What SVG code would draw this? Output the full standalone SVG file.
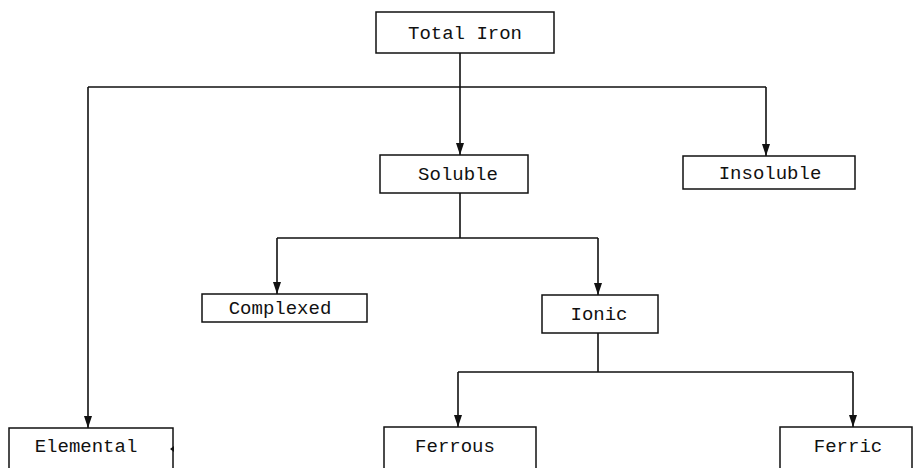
<svg xmlns="http://www.w3.org/2000/svg" width="916" height="468" viewBox="0 0 916 468">
<style>
.box{fill:#fff;stroke:#111;stroke-width:1.5}
.lbl{font-family:"Liberation Mono","DejaVu Sans Mono",monospace;font-size:19px;fill:#111;text-anchor:middle}
.ln{fill:none;stroke:#111;stroke-width:1.6}
</style>
<defs>
<marker id="ah" viewBox="0 0 12 8" refX="12" refY="4" markerWidth="12" markerHeight="8" markerUnits="userSpaceOnUse" orient="auto">
<path d="M0,0 L12,4 L0,8 Z" fill="#111"/>
</marker>
</defs>
<rect width="916" height="468" fill="#fff"/>
<g id="connectors">
<path class="ln" d="M460,53 V87 M88,87 H766"/>
<path class="ln" d="M460,87 V155" marker-end="url(#ah)"/>
<path class="ln" d="M766,87 V156" marker-end="url(#ah)"/>
<path class="ln" d="M88,87 V428" marker-end="url(#ah)"/>
<path class="ln" d="M460,193 V238 M277,238 H598"/>
<path class="ln" d="M277,238 V294" marker-end="url(#ah)"/>
<path class="ln" d="M598,238 V295" marker-end="url(#ah)"/>
<path class="ln" d="M598,333 V372 M458,372 H853"/>
<path class="ln" d="M458,372 V427" marker-end="url(#ah)"/>
<path class="ln" d="M853,372 V427" marker-end="url(#ah)"/>
</g>
<g id="total-iron"><rect class="box" x="376" y="12" width="178" height="41"/><text class="lbl" x="465" y="39">Total Iron</text></g>
<g id="soluble"><rect class="box" x="380" y="155" width="148" height="38"/><text class="lbl" x="458" y="180">Soluble</text></g>
<g id="insoluble"><rect class="box" x="683" y="156" width="172" height="33"/><text class="lbl" x="770" y="179">Insoluble</text></g>
<g id="complexed"><rect class="box" x="202" y="294" width="165" height="28"/><text class="lbl" x="280" y="314">Complexed</text></g>
<g id="ionic"><rect class="box" x="542" y="295" width="116" height="38"/><text class="lbl" x="599" y="320">Ionic</text></g>
<g id="elemental"><rect class="box" x="9" y="428" width="164" height="42"/><text class="lbl" x="86" y="452">Elemental</text><path d="M174,446 L170,449 L174,452" fill="#111"/></g>
<g id="ferrous"><rect class="box" x="384" y="427" width="152" height="43"/><text class="lbl" x="455" y="452">Ferrous</text></g>
<g id="ferric"><rect class="box" x="780" y="427" width="132" height="43"/><text class="lbl" x="848" y="452">Ferric</text></g>
</svg>
